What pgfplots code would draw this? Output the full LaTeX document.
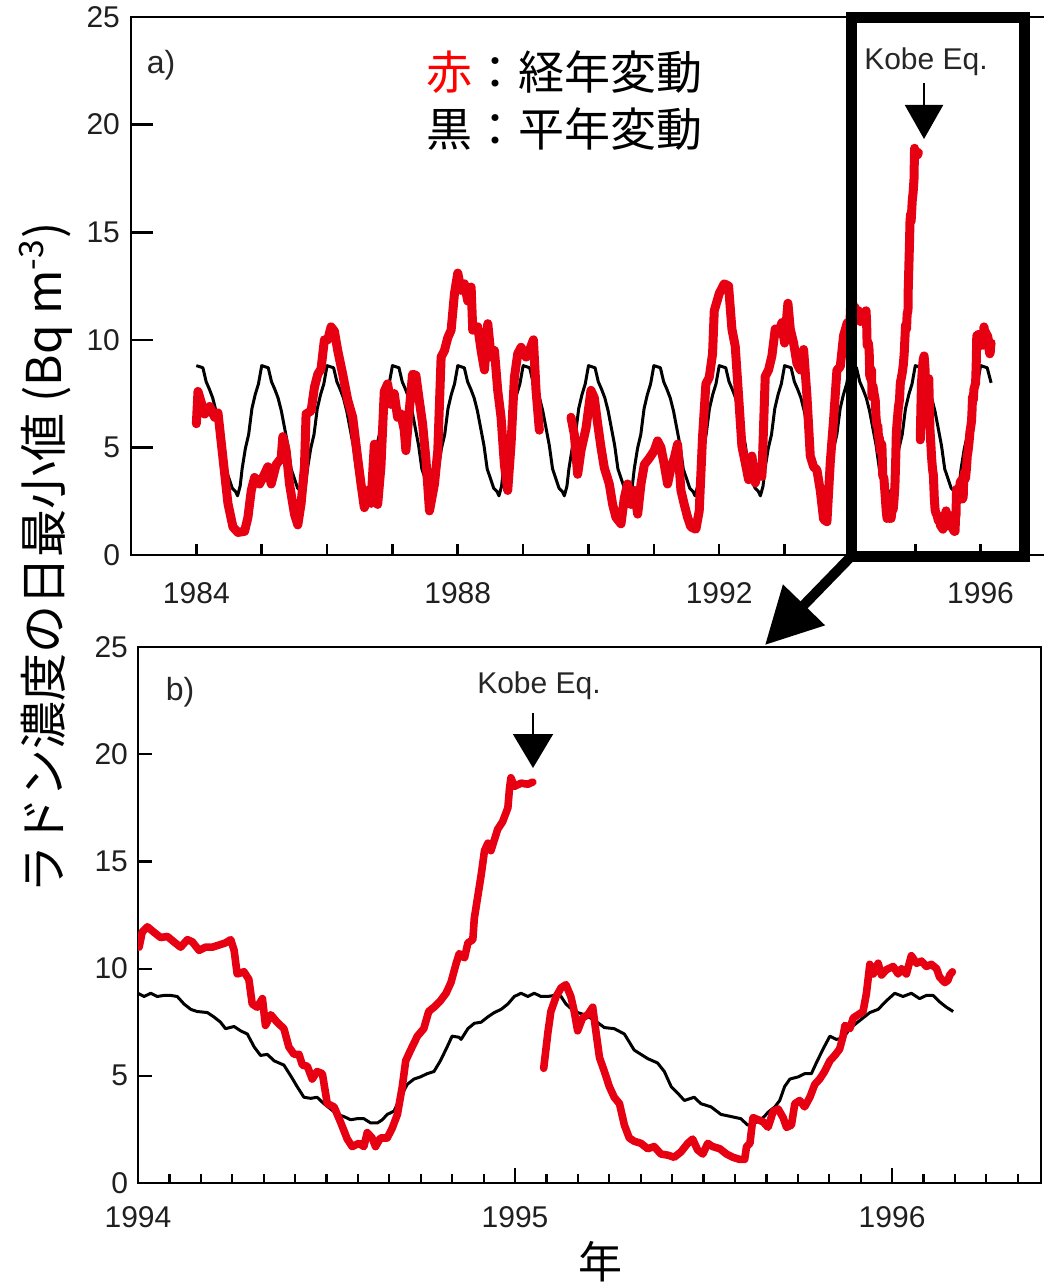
\documentclass[border=0pt]{standalone}
\usepackage{fontspec}
\setmainfont{Liberation Sans}
\newfontfamily\jp{Noto Sans CJK JP}
\usepackage{pgfplots}
\usepackage{pgfplotstable}
\pgfplotsset{compat=1.18}
\usetikzlibrary{arrows.meta}
\definecolor{myred}{HTML}{E60012}
\definecolor{pured}{HTML}{FF0000}

\pgfplotstableread{
t v
1994.003 11.0
1994.011 11.7
1994.025 11.95
1994.042 11.7
1994.060 11.45
1994.078 11.5
1994.095 11.25
1994.113 11.0
1994.131 11.35
1994.144 11.25
1994.162 10.85
1994.179 11.0
1994.197 11.0
1994.215 11.1
1994.232 11.2
1994.246 11.35
1994.255 10.85
1994.263 9.75
1994.281 9.85
1994.294 9.5
1994.303 8.35
1994.316 8.2
1994.330 8.6
1994.338 7.35
1994.352 7.85
1994.369 7.5
1994.387 7.2
1994.400 6.35
1994.414 6.0
1994.427 6.0
1994.436 5.5
1994.449 5.45
1994.462 4.85
1994.475 5.2
1994.489 5.1
1994.502 3.7
1994.520 3.55
1994.537 2.85
1994.555 2.05
1994.568 1.7
1994.586 1.85
1994.599 1.7
1994.608 2.35
1994.621 2.1
1994.630 1.7
1994.643 2.1
1994.661 2.1
1994.674 2.55
1994.688 3.2
1994.701 4.5
1994.710 5.7
1994.723 6.2
1994.741 6.85
1994.758 7.2
1994.771 8.0
1994.785 8.2
1994.802 8.5
1994.817 8.85
1994.830 9.35
1994.844 10.25
1994.852 10.7
1994.866 10.5
1994.875 11.2
1994.888 11.35
1994.892 12.35
1994.901 13.35
1994.910 14.35
1994.919 15.5
1994.928 15.85
1994.936 15.5
1994.945 16.0
1994.954 16.5
1994.967 16.85
1994.981 17.5
1994.985 18.35
1994.989 18.9
1994.998 18.5
1995.016 18.65
1995.034 18.6
1995.047 18.7
}\redA

\pgfplotstableread{
t v
1995.076 5.35
1995.087 7.0
1995.095 8.0
1995.109 8.7
1995.122 9.1
1995.135 9.25
1995.148 8.7
1995.157 8.0
1995.166 7.1
1995.179 7.7
1995.193 7.85
1995.206 8.2
1995.215 7.0
1995.224 5.85
1995.237 5.2
1995.250 4.5
1995.263 4.0
1995.277 3.7
1995.290 2.7
1995.303 2.1
1995.316 1.95
1995.334 1.85
1995.352 1.6
1995.369 1.7
1995.387 1.35
1995.405 1.3
1995.422 1.2
1995.440 1.45
1995.458 1.85
1995.471 2.05
1995.484 1.55
1995.498 1.35
1995.511 1.85
1995.524 1.7
1995.543 1.6
1995.561 1.35
1995.578 1.2
1995.596 1.1
1995.609 1.1
1995.614 1.7
1995.623 1.85
1995.631 3.05
1995.645 2.95
1995.658 2.85
1995.671 2.6
1995.685 3.35
1995.698 3.45
1995.711 3.05
1995.720 2.6
1995.733 2.7
1995.742 3.7
1995.755 3.85
1995.768 3.55
1995.782 4.0
1995.795 4.6
1995.808 4.85
1995.821 5.2
1995.835 5.7
1995.848 5.95
1995.861 6.25
1995.870 6.85
1995.875 7.35
1995.888 7.2
1995.897 7.7
1995.910 7.85
1995.923 8.0
1995.932 8.85
1995.941 10.2
1995.950 9.75
1995.963 10.25
1995.972 9.7
1995.985 9.95
1996.003 10.1
1996.016 9.75
1996.025 10.0
1996.038 9.75
1996.051 10.6
1996.065 10.25
1996.078 10.35
1996.091 10.1
1996.104 10.2
1996.118 10.0
1996.126 9.6
1996.140 9.35
1996.148 9.45
1996.153 9.7
1996.160 9.85
}\redB

\pgfplotstableread{
t v
1994.000 8.85
1994.016 8.7
1994.034 8.85
1994.051 8.7
1994.069 8.75
1994.087 8.75
1994.104 8.7
1994.122 8.35
1994.140 8.1
1994.157 8.0
1994.184 7.95
1994.201 7.75
1994.219 7.5
1994.232 7.2
1994.255 7.3
1994.272 7.1
1994.290 6.95
1994.308 6.35
1994.325 5.95
1994.343 6.0
1994.361 5.7
1994.387 5.5
1994.405 5.0
1994.422 4.5
1994.440 4.0
1994.458 3.95
1994.475 4.0
1994.493 3.7
1994.511 3.45
1994.528 3.2
1994.546 3.1
1994.564 2.95
1994.581 3.0
1994.599 3.0
1994.617 2.8
1994.635 2.8
1994.648 2.95
1994.661 3.2
1994.679 3.35
1994.696 4.0
1994.714 4.6
1994.732 4.85
1994.749 4.95
1994.767 5.1
1994.785 5.2
1994.802 5.7
1994.820 6.35
1994.833 6.85
1994.851 6.8
1994.857 6.7
1994.875 7.2
1994.892 7.45
1994.910 7.5
1994.928 7.75
1994.945 7.95
1994.963 8.1
1994.981 8.35
1994.998 8.7
1995.016 8.85
1995.034 8.7
1995.051 8.85
1995.069 8.7
1995.087 8.7
1995.104 8.75
1995.122 8.7
1995.135 8.35
1995.157 8.0
1995.184 7.85
1995.210 7.6
1995.237 7.25
1995.263 7.2
1995.290 6.95
1995.316 6.2
1995.334 6.0
1995.352 5.8
1995.378 5.6
1995.396 5.2
1995.414 4.5
1995.431 4.2
1995.449 3.85
1995.475 4.0
1995.493 3.7
1995.520 3.55
1995.546 3.2
1995.573 3.1
1995.599 3.0
1995.617 2.7
1995.643 2.85
1995.661 3.1
1995.671 3.3
1995.689 3.55
1995.702 3.85
1995.715 4.5
1995.729 4.85
1995.751 4.95
1995.768 5.1
1995.786 5.1
1995.799 5.6
1995.817 6.25
1995.835 6.85
1995.852 6.7
1995.870 6.75
1995.888 7.2
1995.905 7.45
1995.923 7.7
1995.941 7.95
1995.963 8.1
1995.985 8.5
1996.007 8.85
1996.029 8.7
1996.051 8.85
1996.073 8.6
1996.091 8.75
1996.109 8.75
1996.126 8.45
1996.144 8.2
1996.162 8.0
}\blackB

\pgfplotsset{
  mybase/.style={
    scale only axis,
    anchor=south west,
    ymin=0, ymax=25, ytick={0,5,...,25},
    tick align=inside, xtick pos=bottom, ytick pos=left,
    tick style={black},
    tick label style={font=\fontsize{15}{18}\selectfont, text=black!88},
    /pgf/number format/assume math mode=true,
    no markers,
  },
  redtop/.style={myred, line width=4.5pt, line join=round, line cap=round},
  redbot/.style={myred, line width=3.8pt, line join=round, line cap=round},
  blk/.style={black, line width=1.5pt, line join=round},
}

\begin{document}
\begin{tikzpicture}
\useasboundingbox (0pt,0pt) rectangle (521.5pt,-644pt);

% ---------------- panel a ----------------
\begin{axis}[mybase,
  at={(65.5pt,-277.5pt)}, width=457.5pt, height=269pt,
  xmin=1983, xmax=1997,
  xtick={1984,...,1996}, xticklabels={1984,,,,1988,,,,1992,,,,1996},
  axis line style={line width=1.3pt},
  tick style={line width=1.3pt},
  xtick style={/pgfplots/major tick length=5.5pt},
  ytick style={/pgfplots/major tick length=11pt},
  x tick label style={yshift=-10pt},
  y tick label style={xshift=-2pt},
]
\addplot[blk] coordinates {
(1984.00,8.8)(1984.05,8.75)(1984.10,8.7)(1984.15,8.05)(1984.20,7.7)(1984.25,7.3)(1984.30,6.7)(1984.35,5.9)(1984.40,5.1)(1984.45,4.0)(1984.50,3.55)(1984.55,3.1)(1984.60,2.95)(1984.63,2.75)(1984.67,3.2)(1984.70,4.0)(1984.75,4.95)(1984.80,5.6)(1984.85,6.8)(1984.90,7.45)(1984.95,7.95)
(1985.00,8.8)(1985.05,8.75)(1985.10,8.7)(1985.15,8.05)(1985.20,7.7)(1985.25,7.3)(1985.30,6.7)(1985.35,5.9)(1985.40,5.1)(1985.45,4.0)(1985.50,3.55)(1985.55,3.1)(1985.60,2.95)(1985.63,2.75)(1985.67,3.2)(1985.70,4.0)(1985.75,4.95)(1985.80,5.6)(1985.85,6.8)(1985.90,7.45)(1985.95,7.95)
(1986.00,8.8)(1986.05,8.75)(1986.10,8.7)(1986.15,8.05)(1986.20,7.7)(1986.25,7.3)(1986.30,6.7)(1986.35,5.9)(1986.40,5.1)(1986.45,4.0)(1986.50,3.55)(1986.55,3.1)(1986.60,2.95)(1986.63,2.75)(1986.67,3.2)(1986.70,4.0)(1986.75,4.95)(1986.80,5.6)(1986.85,6.8)(1986.90,7.45)(1986.95,7.95)
(1987.00,8.8)(1987.05,8.75)(1987.10,8.7)(1987.15,8.05)(1987.20,7.7)(1987.25,7.3)(1987.30,6.7)(1987.35,5.9)(1987.40,5.1)(1987.45,4.0)(1987.50,3.55)(1987.55,3.1)(1987.60,2.95)(1987.63,2.75)(1987.67,3.2)(1987.70,4.0)(1987.75,4.95)(1987.80,5.6)(1987.85,6.8)(1987.90,7.45)(1987.95,7.95)
(1988.00,8.8)(1988.05,8.75)(1988.10,8.7)(1988.15,8.05)(1988.20,7.7)(1988.25,7.3)(1988.30,6.7)(1988.35,5.9)(1988.40,5.1)(1988.45,4.0)(1988.50,3.55)(1988.55,3.1)(1988.60,2.95)(1988.63,2.75)(1988.67,3.2)(1988.70,4.0)(1988.75,4.95)(1988.80,5.6)(1988.85,6.8)(1988.90,7.45)(1988.95,7.95)
(1989.00,8.8)(1989.05,8.75)(1989.10,8.7)(1989.15,8.05)(1989.20,7.7)(1989.25,7.3)(1989.30,6.7)(1989.35,5.9)(1989.40,5.1)(1989.45,4.0)(1989.50,3.55)(1989.55,3.1)(1989.60,2.95)(1989.63,2.75)(1989.67,3.2)(1989.70,4.0)(1989.75,4.95)(1989.80,5.6)(1989.85,6.8)(1989.90,7.45)(1989.95,7.95)
(1990.00,8.8)(1990.05,8.75)(1990.10,8.7)(1990.15,8.05)(1990.20,7.7)(1990.25,7.3)(1990.30,6.7)(1990.35,5.9)(1990.40,5.1)(1990.45,4.0)(1990.50,3.55)(1990.55,3.1)(1990.60,2.95)(1990.63,2.75)(1990.67,3.2)(1990.70,4.0)(1990.75,4.95)(1990.80,5.6)(1990.85,6.8)(1990.90,7.45)(1990.95,7.95)
(1991.00,8.8)(1991.05,8.75)(1991.10,8.7)(1991.15,8.05)(1991.20,7.7)(1991.25,7.3)(1991.30,6.7)(1991.35,5.9)(1991.40,5.1)(1991.45,4.0)(1991.50,3.55)(1991.55,3.1)(1991.60,2.95)(1991.63,2.75)(1991.67,3.2)(1991.70,4.0)(1991.75,4.95)(1991.80,5.6)(1991.85,6.8)(1991.90,7.45)(1991.95,7.95)
(1992.00,8.8)(1992.05,8.75)(1992.10,8.7)(1992.15,8.05)(1992.20,7.7)(1992.25,7.3)(1992.30,6.7)(1992.35,5.9)(1992.40,5.1)(1992.45,4.0)(1992.50,3.55)(1992.55,3.1)(1992.60,2.95)(1992.63,2.75)(1992.67,3.2)(1992.70,4.0)(1992.75,4.95)(1992.80,5.6)(1992.85,6.8)(1992.90,7.45)(1992.95,7.95)
(1993.00,8.8)(1993.05,8.75)(1993.10,8.7)(1993.15,8.05)(1993.20,7.7)(1993.25,7.3)(1993.30,6.7)(1993.35,5.9)(1993.40,5.1)(1993.45,4.0)(1993.50,3.55)(1993.55,3.1)(1993.60,2.95)(1993.63,2.75)(1993.67,3.2)(1993.70,4.0)(1993.75,4.95)(1993.80,5.6)(1993.85,6.8)(1993.90,7.45)(1993.95,7.95)
(1994.00,8.8)(1994.05,8.75)(1994.10,8.7)(1994.15,8.05)(1994.20,7.7)(1994.25,7.3)(1994.30,6.7)(1994.35,5.9)(1994.40,5.1)(1994.45,4.0)(1994.50,3.55)(1994.55,3.1)(1994.60,2.95)(1994.63,2.75)(1994.67,3.2)(1994.70,4.0)(1994.75,4.95)(1994.80,5.6)(1994.85,6.8)(1994.90,7.45)(1994.95,7.95)
(1995.00,8.8)(1995.05,8.75)(1995.10,8.7)(1995.15,8.05)(1995.20,7.7)(1995.25,7.3)(1995.30,6.7)(1995.35,5.9)(1995.40,5.1)(1995.45,4.0)(1995.50,3.55)(1995.55,3.1)(1995.60,2.95)(1995.63,2.75)(1995.67,3.2)(1995.70,4.0)(1995.75,4.95)(1995.80,5.6)(1995.85,6.8)(1995.90,7.45)(1995.95,7.95)
(1996.00,8.8)(1996.05,8.75)(1996.10,8.7)(1996.16,8.0)
};
\addplot[redtop] coordinates {
(1984.000,6.1)(1984.025,7.6)(1984.127,6.55)(1984.204,6.9)(1984.280,6.4)(1984.331,6.6)(1984.407,4.5)(1984.483,2.4)(1984.560,1.3)(1984.636,1.05)(1984.738,1.1)(1984.789,1.75)(1984.840,3.0)(1984.891,3.6)(1984.967,3.3)
(1985.018,3.6)(1985.094,4.1)(1985.145,3.3)(1985.221,4.2)(1985.298,4.5)(1985.323,5.5)(1985.374,4.85)(1985.425,3.3)(1985.501,1.9)(1985.552,1.4)(1985.603,2.4)(1985.654,4.1)(1985.679,6.55)(1985.756,6.7)(1985.807,7.8)(1985.858,8.4)(1985.908,8.65)(1985.959,10.0)
(1986.010,10.0)(1986.061,10.6)(1986.112,10.4)(1986.163,9.5)(1986.239,8.4)(1986.316,7.2)(1986.392,6.4)(1986.468,4.5)(1986.519,3.3)(1986.570,2.2)(1986.621,3.0)(1986.672,2.4)(1986.723,5.15)(1986.774,2.35)(1986.824,4.1)(1986.875,7.6)(1986.926,7.95)(1986.977,7.0)
(1987.028,7.5)(1987.079,6.4)(1987.130,6.55)(1987.181,5.8)(1987.206,4.85)(1987.257,6.7)(1987.308,8.4)(1987.359,8.35)(1987.410,7.2)(1987.461,6.1)(1987.511,4.5)(1987.567,2.05)(1987.643,3.3)(1987.694,4.85)(1987.745,9.2)(1987.796,9.5)(1987.847,10.1)(1987.898,10.45)(1987.949,12.15)
(1988.000,13.1)(1988.051,12.3)(1988.102,12.6)(1988.153,11.8)(1988.204,12.45)(1988.229,10.45)(1988.306,10.6)(1988.357,9.5)(1988.408,8.6)(1988.459,10.75)(1988.510,9.2)(1988.561,9.5)(1988.611,7.65)(1988.662,6.4)(1988.713,4.2)(1988.764,3.0)(1988.815,5.15)(1988.866,8.25)(1988.917,9.35)(1988.968,9.65)
(1989.045,9.2)(1989.096,9.5)(1989.157,10.0)(1989.197,7.65)(1989.248,5.8)
};
\addplot[redtop] coordinates {
(1989.732,6.4)(1989.783,5.6)(1989.834,3.75)(1989.885,4.85)(1989.962,5.9)
(1990.038,7.65)(1990.089,7.3)(1990.140,6.1)(1990.191,5.0)(1990.242,4.05)(1990.318,3.3)(1990.369,2.35)(1990.420,1.75)(1990.497,1.45)(1990.548,2.65)(1990.599,3.3)(1990.650,2.35)(1990.701,3.0)(1990.752,1.9)(1990.803,3.3)(1990.854,4.2)(1990.930,4.5)
(1991.006,4.85)(1991.057,5.3)(1991.108,5.0)(1991.159,4.2)(1991.210,3.3)(1991.261,4.05)(1991.312,4.5)(1991.363,5.15)(1991.414,3.0)(1991.465,2.35)(1991.516,1.75)(1991.567,1.3)(1991.643,1.2)(1991.694,2.05)(1991.745,5.5)(1991.796,7.95)(1991.847,8.25)(1991.898,9.35)(1991.924,11.35)
(1992.000,12.15)(1992.076,12.6)(1992.143,12.5)(1992.194,10.5)(1992.245,9.7)(1992.296,7.4)(1992.347,5.05)(1992.398,4.3)(1992.449,3.5)(1992.500,4.6)(1992.551,3.35)(1992.602,4.1)(1992.653,3.65)(1992.704,8.3)(1992.755,8.6)(1992.806,9.25)(1992.857,10.5)(1992.908,10.3)(1992.959,10.8)
(1993.000,9.85)(1993.051,11.7)(1993.087,10.5)(1993.138,9.85)(1993.189,8.9)(1993.240,8.6)(1993.291,9.55)(1993.342,7.4)(1993.393,4.6)(1993.444,4.1)(1993.495,3.95)(1993.546,3.0)(1993.597,1.65)(1993.648,1.55)(1993.699,4.3)(1993.750,6.3)(1993.801,8.6)(1993.852,8.75)(1993.903,10.2)(1993.960,10.8)
};
\addplot[redtop] table[x=t,y=v] {\redA};
\addplot[redtop] table[x=t,y=v] {\redB};
\end{axis}

% ---------------- panel b ----------------
\begin{axis}[mybase,
  at={(69pt,-591.5pt)}, width=451.5pt, height=268pt,
  xmin=1994, xmax=1996.395,
  xtick={1994,1995,1996}, xticklabels={1994,1995,1996},
  minor xtick={1994.0833,1994.1667,1994.25,1994.3333,1994.4167,1994.5,1994.5833,1994.6667,1994.75,1994.8333,1994.9167,
               1995.0833,1995.1667,1995.25,1995.3333,1995.4167,1995.5,1995.5833,1995.6667,1995.75,1995.8333,1995.9167,
               1996.0833,1996.1667,1996.25,1996.3333},
  axis line style={line width=1.1pt},
  tick style={line width=1.1pt},
  minor tick length=4.5pt,
  xtick style={/pgfplots/major tick length=7.5pt},
  ytick style={/pgfplots/major tick length=7pt},
  x tick label style={yshift=-8pt},
  y tick label style={xshift=-1.5pt},
]
\addplot[blk] table[x=t,y=v] {\blackB};
\addplot[redbot] table[x=t,y=v] {\redA};
\addplot[redbot] table[x=t,y=v] {\redB};
\end{axis}

% ---------------- annotations ----------------
\draw[line width=5.5pt] (425.75pt,-9pt) rectangle (512.25pt,-278pt);
\draw[line width=5pt,-{Triangle[length=28pt,width=28pt]}] (425.75pt,-278pt) -- (382.5pt,-322.5pt);

\node[font=\fontsize{16}{19}\selectfont, text=black!85] at (80.5pt,-32.5pt) {a)};
\node[font=\fontsize{16}{19}\selectfont, text=black!85] at (90pt,-346pt) {b)};

\node[font=\fontsize{15}{18}\selectfont, text=black!85] at (463pt,-31pt) {Kobe Eq.};
\draw[line width=1pt,-{Triangle[length=17pt,width=19pt]}] (462pt,-41.5pt) -- (462pt,-69.5pt);
\node[font=\fontsize{15}{18}\selectfont, text=black!85] at (269.5pt,-343pt) {Kobe Eq.};
\draw[line width=1pt,-{Triangle[length=17pt,width=20pt]}] (266.5pt,-356.5pt) -- (266.5pt,-384pt);

\node[anchor=west, inner sep=0pt, font=\jp\fontsize{23}{28}\selectfont] at (213pt,-36pt) {\textcolor{pured}{赤}：経年変動};
\node[anchor=west, inner sep=0pt, font=\jp\fontsize{23}{28}\selectfont] at (213pt,-64.5pt) {黒：平年変動};

\node[rotate=90, font=\jp\fontsize{24}{29}\selectfont] at (23pt,-279pt) {ラドン濃度の日最小値 (Bq m\textsuperscript{-3})};
\node[font=\jp\fontsize{22}{26}\selectfont] at (300pt,-631pt) {年};
\end{tikzpicture}
\end{document}
